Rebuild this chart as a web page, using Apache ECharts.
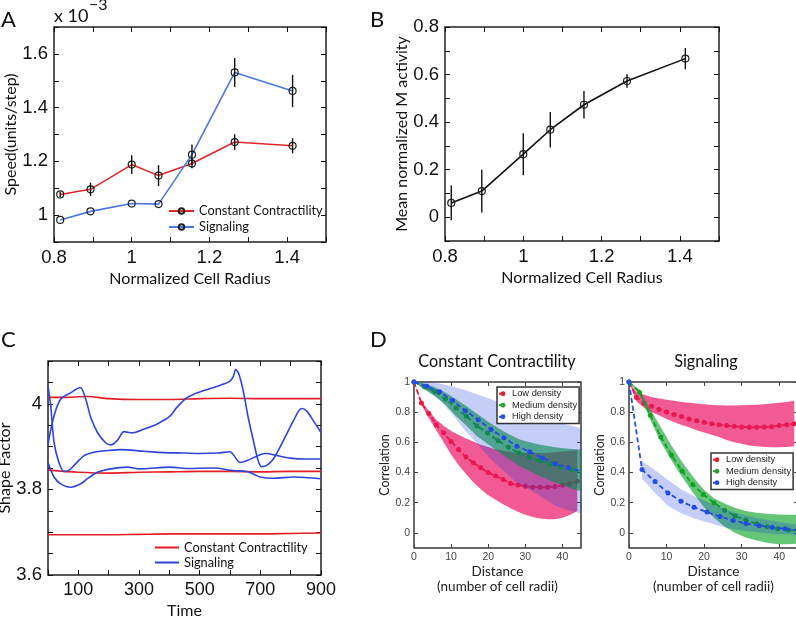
<!DOCTYPE html>
<html>
<head>
<meta charset="utf-8">
<script src="https://cdn.jsdelivr.net/npm/echarts@6.0.0/dist/echarts.min.js"></script>
<style>
  html, body { margin: 0; padding: 0; background: #fff; }
  #main { width: 796px; height: 618px; }
</style>
</head>
<body>
<div id="main"></div>
<script>
// ---- panel A / B : speed and M activity vs normalized cell radius
const radius = [0.816, 0.894, 1.0, 1.069, 1.155, 1.265, 1.414];
const speedConst = [1.077, 1.096, 1.188, 1.147, 1.192, 1.272, 1.258];
const speedConstErr = [0.01, 0.025, 0.035, 0.039, 0.018, 0.029, 0.028];
const speedSignal = [0.982, 1.014, 1.043, 1.041, 1.225, 1.531, 1.462];
const speedSignalErr = [0, 0, 0, 0, 0.038, 0.054, 0.06];
const activity = [0.06, 0.11, 0.265, 0.368, 0.473, 0.573, 0.667];
const activityErr = [0.073, 0.09, 0.088, 0.075, 0.058, 0.028, 0.045];

// ---- panel C : shape factor over time (3 constant contractility + 3 signaling runs)
const tConst1 = [0, 50, 130, 200, 300, 400, 500, 600, 700, 800, 900];
const sfConst1 = [4.015, 4.015, 4.017, 4.012, 4.01, 4.01, 4.012, 4.013, 4.012, 4.012, 4.012];
const tConst2 = [0, 100, 200, 300, 400, 500, 600, 700, 800, 900];
const sfConst2 = [3.845, 3.84, 3.838, 3.84, 3.841, 3.842, 3.842, 3.841, 3.842, 3.842];
const tConst3 = [0, 100, 200, 300, 400, 500, 600, 700, 800, 900];
const sfConst3 = [3.694, 3.694, 3.694, 3.695, 3.696, 3.696, 3.696, 3.696, 3.697, 3.698];
const tSig1 = [0, 9, 20, 36, 53, 70, 86, 119, 152, 200, 240, 317, 383, 450, 500, 560, 600, 611, 633, 655, 699, 721, 754, 798, 850, 900];
const sfSig1 = [4.042, 3.995, 3.91, 3.863, 3.842, 3.845, 3.856, 3.879, 3.887, 3.891, 3.893, 3.889, 3.886, 3.885, 3.884, 3.885, 3.888, 3.881, 3.863, 3.867, 3.881, 3.884, 3.879, 3.873, 3.871, 3.871];
const tSig2 = [0, 20, 42, 75, 106, 124, 141, 163, 190, 207, 228, 251, 278, 317, 360, 402, 424, 457, 479, 523, 567, 600, 611, 619, 630, 644, 660, 677, 693, 704, 721, 743, 776, 809, 836, 853, 875, 900];
const sfSig2 = [3.906, 3.972, 4.011, 4.026, 4.038, 4.012, 3.968, 3.933, 3.909, 3.904, 3.914, 3.935, 3.932, 3.941, 3.953, 3.971, 3.991, 4.014, 4.022, 4.033, 4.043, 4.053, 4.064, 4.08, 4.068, 4.029, 3.968, 3.914, 3.867, 3.853, 3.856, 3.871, 3.914, 3.96, 3.989, 3.983, 3.96, 3.933];
const tSig3 = [0, 20, 42, 75, 108, 130, 163, 207, 262, 302, 402, 457, 545, 611, 655, 677, 699, 743, 809, 900];
const sfSig3 = [3.863, 3.829, 3.813, 3.805, 3.813, 3.825, 3.84, 3.848, 3.852, 3.848, 3.852, 3.849, 3.85, 3.844, 3.842, 3.836, 3.829, 3.826, 3.829, 3.825];

// ---- panel D : correlation vs distance, mean with upper / lower band
const distLow = [0, 2, 4, 6, 8, 10, 12, 14, 16, 18, 20, 22, 24, 26, 28, 30, 32, 34, 36, 38, 40, 42, 44];
const distMed = [0, 2.83, 5.66, 8.49, 11.31, 14.14, 16.97, 19.8, 22.63, 25.46, 28.28, 31.11, 33.94, 36.77, 39.6, 42.43, 45.25];
const distHigh = [0, 3.46, 6.93, 10.39, 13.86, 17.32, 20.78, 24.25, 27.71, 31.18, 34.64, 38.11, 41.57, 45.03];

const ccLow = [1, 0.861, 0.792, 0.717, 0.662, 0.606, 0.552, 0.503, 0.465, 0.431, 0.4, 0.377, 0.354, 0.328, 0.317, 0.309, 0.303, 0.302, 0.302, 0.308, 0.315, 0.328, 0.342];
const ccLowUpper = [1, 0.87, 0.81, 0.75, 0.71, 0.675, 0.65, 0.625, 0.605, 0.585, 0.57, 0.555, 0.545, 0.537, 0.532, 0.53, 0.53, 0.53, 0.532, 0.535, 0.54, 0.545, 0.55];
const ccLowLower = [1, 0.85, 0.76, 0.68, 0.6, 0.52, 0.45, 0.39, 0.335, 0.29, 0.25, 0.22, 0.19, 0.163, 0.14, 0.12, 0.105, 0.095, 0.09, 0.09, 0.1, 0.118, 0.145];
const ccMed = [1, 0.968, 0.935, 0.888, 0.828, 0.773, 0.708, 0.662, 0.611, 0.568, 0.53, 0.5, 0.478, 0.457, 0.44, 0.42, 0.402];
const ccMedUpper = [1, 0.99, 0.965, 0.93, 0.885, 0.84, 0.79, 0.74, 0.695, 0.655, 0.62, 0.6, 0.585, 0.572, 0.562, 0.556, 0.552];
const ccMedLower = [1, 0.95, 0.905, 0.85, 0.775, 0.71, 0.64, 0.59, 0.54, 0.49, 0.445, 0.41, 0.375, 0.345, 0.32, 0.295, 0.275];
const ccHigh = [1, 0.972, 0.935, 0.877, 0.81, 0.75, 0.685, 0.63, 0.575, 0.538, 0.497, 0.458, 0.432, 0.41];
const ccHighUpper = [1, 0.998, 0.99, 0.97, 0.945, 0.915, 0.885, 0.85, 0.82, 0.79, 0.76, 0.735, 0.715, 0.695];
const ccHighLower = [1, 0.946, 0.88, 0.785, 0.675, 0.585, 0.485, 0.41, 0.33, 0.286, 0.234, 0.18, 0.15, 0.13];

const sigLow = [1, 0.898, 0.861, 0.839, 0.817, 0.801, 0.784, 0.772, 0.755, 0.744, 0.733, 0.724, 0.717, 0.711, 0.706, 0.702, 0.7, 0.7, 0.702, 0.704, 0.711, 0.717, 0.724];
const sigLowUpper = [1, 0.935, 0.915, 0.9, 0.89, 0.882, 0.875, 0.868, 0.862, 0.857, 0.852, 0.848, 0.846, 0.845, 0.845, 0.846, 0.848, 0.85, 0.853, 0.857, 0.862, 0.868, 0.875];
const sigLowLower = [1, 0.87, 0.83, 0.8, 0.78, 0.755, 0.735, 0.715, 0.7, 0.68, 0.665, 0.65, 0.635, 0.615, 0.6, 0.59, 0.58, 0.575, 0.57, 0.567, 0.567, 0.57, 0.574];
const sigMed = [1, 0.93, 0.78, 0.635, 0.515, 0.41, 0.32, 0.255, 0.2, 0.15, 0.112, 0.085, 0.06, 0.04, 0.028, 0.02, 0.016];
const sigMedUpper = [1, 0.95, 0.82, 0.7, 0.58, 0.47, 0.375, 0.29, 0.23, 0.195, 0.165, 0.145, 0.133, 0.127, 0.122, 0.12, 0.12];
const sigMedLower = [1, 0.92, 0.75, 0.6, 0.48, 0.37, 0.27, 0.175, 0.1, 0.04, 0.0, -0.03, -0.05, -0.065, -0.075, -0.075, -0.07];
const sigHigh = [1, 0.42, 0.34, 0.265, 0.21, 0.17, 0.138, 0.108, 0.082, 0.063, 0.048, 0.037, 0.027, 0.018];
const sigHighUpper = [null, 0.475, 0.415, 0.35, 0.29, 0.245, 0.205, 0.17, 0.14, 0.115, 0.095, 0.08, 0.065, 0.055];
const sigHighLower = [null, 0.36, 0.265, 0.18, 0.13, 0.095, 0.07, 0.045, 0.025, 0.012, 0.002, -0.005, -0.01, -0.015];

// tick / label positions
const radiusLabels = [0.8, 1, 1.2, 1.4];
const speedLabels = [1, 1.2, 1.4, 1.6];
const activityLabels = [0, 0.2, 0.4, 0.6, 0.8];
const timeLabels = [100, 300, 500, 700, 900];
const shapeLabels = [3.6, 3.8, 4];
const distLabels = [0, 10, 20, 30, 40];
const corrLabels = [0, 0.2, 0.4, 0.6, 0.8, 1];

const NUM = '"Liberation Sans", Arial, sans-serif';
const TXT = 'Lato, "Open Sans", sans-serif';
const RED_A = '#e0282a', BLUE_A = '#4a78dc';
const RED_C = '#e51e25', BLUE_C = '#2e45dc';
const RED_D = '#e3202a', GREEN_D = '#2ea02e', BLUE_D = '#2850e6';

// bottom/left axis with labels plus a mirrored top/right axis with ticks only (matlab box)
function axisPair(dim, g, o) {
  const common = {
    type: 'value', gridIndex: g, min: o.min, max: o.max, interval: o.interval,
    axisLine: { show: false, onZero: false }, splitLine: { show: false },
    axisTick: { show: true, inside: true, length: o.tickLen || 5, customValues: o.ticks,
      lineStyle: { color: o.color, width: 1 } }
  };
  const main = Object.assign({}, common, {
    position: dim === 'x' ? 'bottom' : 'left',
    axisLabel: { customValues: o.labels, color: o.color, fontFamily: NUM, fontSize: o.fontSize, margin: o.margin },
    name: o.name, nameLocation: 'middle', nameGap: o.nameGap, nameTextStyle: o.nameStyle
  });
  const mirror = Object.assign({}, common, {
    position: dim === 'x' ? 'top' : 'right',
    axisLabel: { show: false }
  });
  return [main, mirror];
}

const bigName = { fontFamily: TXT, fontSize: 16, color: '#111' };
const smallName = { fontFamily: TXT, fontSize: 13.5, color: '#222', lineHeight: 15 };
const corrName = { fontFamily: TXT, fontSize: 12.5, color: '#222' };

const xAxes = [].concat(
  axisPair('x', 0, { min: 0.8, max: 1.5, interval: 0.1, labels: radiusLabels, color: '#111', fontSize: 18.5, margin: 6,
    name: 'Normalized Cell Radius', nameGap: 29, nameStyle: bigName }),
  axisPair('x', 1, { min: 0.8, max: 1.5, interval: 0.1, labels: radiusLabels, color: '#111', fontSize: 18.5, margin: 6,
    name: 'Normalized Cell Radius', nameGap: 29, nameStyle: bigName }),
  axisPair('x', 2, { min: 0, max: 900, interval: 100, labels: timeLabels, color: '#111', fontSize: 18, margin: 6,
    name: 'Time', nameGap: 28, nameStyle: bigName }),
  axisPair('x', 3, { min: 0, max: 45, interval: 5, ticks: distLabels, labels: distLabels, color: '#444', fontSize: 10.5, margin: 4, tickLen: 4,
    name: 'Distance\n(number of cell radii)', nameGap: 15, nameStyle: smallName }),
  axisPair('x', 4, { min: 0, max: 45, interval: 5, ticks: distLabels, labels: distLabels, color: '#444', fontSize: 10.5, margin: 4, tickLen: 4,
    name: 'Distance\n(number of cell radii)', nameGap: 15, nameStyle: smallName })
);
const yAxes = [].concat(
  axisPair('y', 0, { min: 0.9, max: 1.7, interval: 0.1, labels: speedLabels, color: '#111', fontSize: 18.5, margin: 6,
    name: 'Speed(units/step)', nameGap: 34, nameStyle: bigName }),
  axisPair('y', 1, { min: -0.1, max: 0.8, interval: 0.1, labels: activityLabels, color: '#111', fontSize: 18.5, margin: 6,
    name: 'Mean normalized M activity', nameGap: 32, nameStyle: bigName }),
  axisPair('y', 2, { min: 3.6, max: 4.1, interval: 0.05, labels: shapeLabels, color: '#111', fontSize: 18.5, margin: 6,
    name: 'Shape Factor', nameGap: 28, nameStyle: bigName }),
  axisPair('y', 3, { min: -0.1, max: 1, interval: 0.1, ticks: corrLabels, labels: corrLabels, color: '#444', fontSize: 10.5, margin: 4, tickLen: 4,
    name: 'Correlation', nameGap: 20, nameStyle: corrName }),
  axisPair('y', 4, { min: -0.1, max: 1, interval: 0.1, ticks: corrLabels, labels: corrLabels, color: '#444', fontSize: 10.5, margin: 4, tickLen: 4,
    name: 'Correlation', nameGap: 23, nameStyle: corrName })
);

const grids = [
  { left: 54, top: 27, width: 272, height: 215, borderColor: '#222' },
  { left: 445, top: 27, width: 274, height: 214, borderColor: '#222' },
  { left: 48, top: 361, width: 273, height: 214, borderColor: '#222' },
  { left: 414, top: 382, width: 167, height: 166, borderColor: '#3a3a3a' },
  { left: 629, top: 382, width: 169, height: 166, borderColor: '#3a3a3a' }
].map(g => Object.assign({ show: true, borderWidth: 1.5, containLabel: false, outerBoundsMode: 'none' }, g));

const pairs = (xs, ys) => xs.map((x, i) => [x, ys[i]]);

function markerLine(name, xs, ys, g, color) {
  return {
    type: 'line', name, xAxisIndex: 2 * g, yAxisIndex: 2 * g, z: 3,
    data: pairs(xs, ys), symbol: 'circle', symbolSize: 7,
    lineStyle: { color, width: 1.6 },
    itemStyle: { color: 'rgba(255,255,255,0)', borderColor: '#222', borderWidth: 1.2 }
  };
}

function errorBars(xs, ys, errs, g) {
  return {
    type: 'custom', xAxisIndex: 2 * g, yAxisIndex: 2 * g, z: 4, silent: true,
    data: xs.map((x, i) => [x, ys[i] - errs[i], ys[i] + errs[i]]),
    encode: { x: 0, y: [1, 2] },
    renderItem: (params, api) => {
      const lo = api.coord([api.value(0), api.value(1)]);
      const hi = api.coord([api.value(0), api.value(2)]);
      return { type: 'line', shape: { x1: lo[0], y1: lo[1], x2: hi[0], y2: hi[1] },
        style: { stroke: '#111', lineWidth: 1.4 } };
    }
  };
}

function traceLine(name, xs, ys, g, color) {
  return {
    type: 'line', name, xAxisIndex: 2 * g, yAxisIndex: 2 * g, z: 3,
    data: pairs(xs, ys), symbol: 'none', smooth: 0.3,
    lineStyle: { color, width: 1.6 }, itemStyle: { color }
  };
}

function densityLine(name, xs, ys, g, color, z) {
  return {
    type: 'line', name, xAxisIndex: 2 * g, yAxisIndex: 2 * g, z,
    data: pairs(xs, ys), symbol: 'circle', symbolSize: 5, clip: true,
    lineStyle: { color, width: 1.8, type: [5, 3] }, itemStyle: { color }
  };
}

function band(xs, lo, hi, g, fill, z) {
  return {
    type: 'custom', xAxisIndex: 2 * g, yAxisIndex: 2 * g, z, silent: true, clip: true,
    data: [[10, 0.5]],
    renderItem: (params, api) => {
      const pts = [];
      xs.forEach((x, i) => { if (hi[i] != null) pts.push(api.coord([x, hi[i]])); });
      for (let i = xs.length - 1; i >= 0; i--) {
        if (lo[i] != null) pts.push(api.coord([xs[i], lo[i]]));
      }
      return { type: 'polygon', shape: { points: pts }, style: { fill } };
    }
  };
}

const PINK = 'rgba(235,20,100,0.7)';
const GREEN = 'rgba(0,160,30,0.6)';
const LBLUE = 'rgba(20,60,220,0.25)';

const series = [
  // A
  markerLine('Constant Contractility', radius, speedConst, 0, RED_A),
  markerLine('Signaling', radius, speedSignal, 0, BLUE_A),
  errorBars(radius, speedConst, speedConstErr, 0),
  errorBars(radius, speedSignal, speedSignalErr, 0),
  // B
  markerLine('M activity', radius, activity, 1, '#111'),
  errorBars(radius, activity, activityErr, 1),
  // C
  traceLine('Constant Contractility', tConst1, sfConst1, 2, RED_C),
  traceLine('Constant Contractility', tConst2, sfConst2, 2, RED_C),
  traceLine('Constant Contractility', tConst3, sfConst3, 2, RED_C),
  traceLine('Signaling', tSig1, sfSig1, 2, BLUE_C),
  traceLine('Signaling', tSig2, sfSig2, 2, BLUE_C),
  traceLine('Signaling', tSig3, sfSig3, 2, BLUE_C),
  // D left: constant contractility
  densityLine('Low density', distLow, ccLow, 3, RED_D, 2),
  band(distLow, ccLowLower, ccLowUpper, 3, PINK, 3),
  densityLine('Medium density', distMed, ccMed, 3, GREEN_D, 4),
  band(distMed, ccMedLower, ccMedUpper, 3, GREEN, 5),
  densityLine('High density', distHigh, ccHigh, 3, BLUE_D, 6),
  band(distHigh, ccHighLower, ccHighUpper, 3, LBLUE, 7),
  // D right: signaling
  densityLine('Low density', distLow, sigLow, 4, RED_D, 2),
  band(distLow, sigLowLower, sigLowUpper, 4, PINK, 3),
  densityLine('Medium density', distMed, sigMed, 4, GREEN_D, 4),
  band(distMed, sigMedLower, sigMedUpper, 4, GREEN, 5),
  densityLine('High density', distHigh, sigHigh, 4, BLUE_D, 6),
  band(distHigh, sigHighLower, sigHighUpper, 4, LBLUE, 7)
];

const densityLegend = (left, top) => ({
  left, top, orient: 'vertical', padding: [1, 2, 1, 1], itemGap: 0, itemWidth: 8, itemHeight: 6,
  borderColor: '#333', borderWidth: 1.5, backgroundColor: '#fff', z: 20,
  textStyle: { fontFamily: NUM, fontSize: 9.3, lineHeight: 11.5, color: '#222' },
  data: ['Low density', 'Medium density', 'High density']
});

const letter = (text, left, top) => ({
  text, left, top, padding: 0,
  textStyle: { fontFamily: TXT, fontSize: 22, fontWeight: 'normal', color: '#111' }
});

const option = {
  animation: false,
  backgroundColor: '#fff',
  grid: grids,
  xAxis: xAxes,
  yAxis: yAxes,
  title: [
    letter('A', 1, 9), letter('B', 370, 9), letter('C', 1, 329), letter('D', 370, 329),
    { text: 'x 10', left: 54, top: 7, padding: 0,
      textStyle: { fontFamily: TXT, fontSize: 18, fontWeight: 'normal', color: '#111' } },
    { text: '−3', left: 89, top: -3, padding: 0,
      textStyle: { fontFamily: TXT, fontSize: 16, fontWeight: 'normal', color: '#111' } },
    { text: 'Constant Contractility', left: 497, top: 354, textAlign: 'center', padding: 0,
      textStyle: { fontFamily: TXT, fontSize: 16.3, fontWeight: 'normal', color: '#111' } },
    { text: 'Signaling', left: 706, top: 354, textAlign: 'center', padding: 0,
      textStyle: { fontFamily: TXT, fontSize: 16.3, fontWeight: 'normal', color: '#111' } }
  ],
  legend: [
    { left: 168, top: 203, orient: 'vertical', padding: 0, itemGap: 0, itemWidth: 25, itemHeight: 7,
      textStyle: { fontFamily: TXT, fontSize: 12.8, lineHeight: 16, color: '#111' },
      data: ['Constant Contractility', 'Signaling'] },
    { left: 155, top: 540, orient: 'vertical', padding: 0, itemGap: 0, itemWidth: 24, itemHeight: 2,
      textStyle: { fontFamily: TXT, fontSize: 12.8, lineHeight: 15, color: '#111' },
      data: [
        { name: 'Constant Contractility', icon: 'rect', itemStyle: { color: RED_C, borderWidth: 0 } },
        { name: 'Signaling', icon: 'rect', itemStyle: { color: BLUE_C, borderWidth: 0 } }
      ] },
    densityLegend(497, 387),
    densityLegend(711, 453)
  ],
  series
};

const chart = echarts.init(document.getElementById('main'));
chart.setOption(option);
</script>
</body>
</html>
